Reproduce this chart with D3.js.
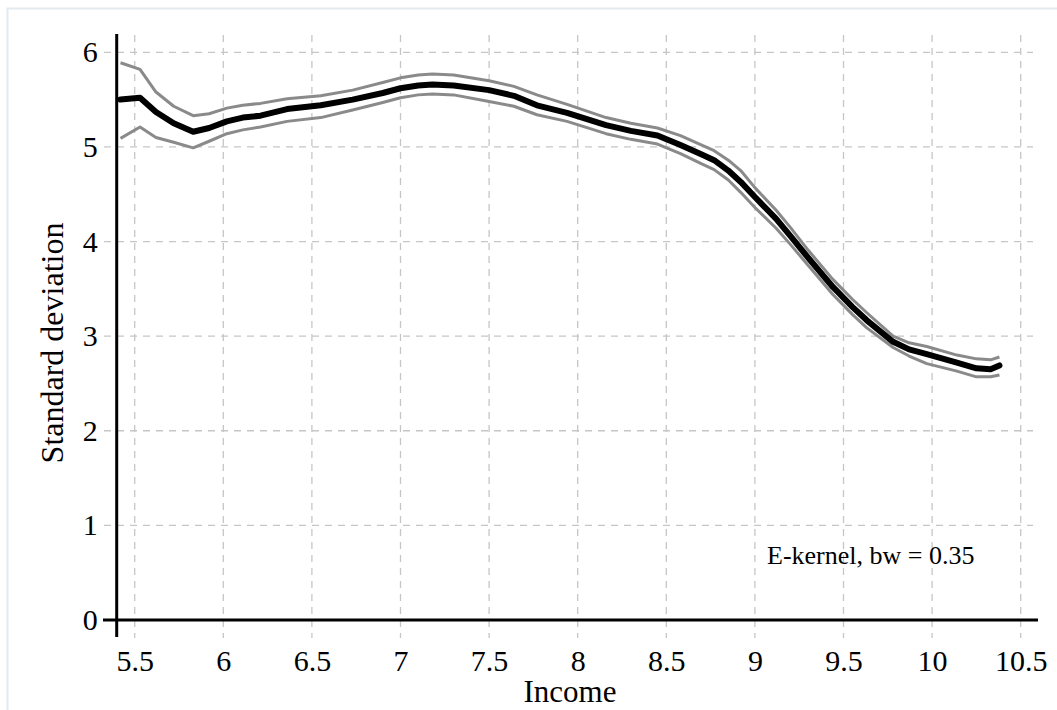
<!DOCTYPE html>
<html>
<head>
<meta charset="utf-8">
<script src="https://cdn.jsdelivr.net/npm/d3@7"></script>
<style>
  html, body { margin: 0; padding: 0; background: #fff; }
  svg { display: block; }
  text { font-family: "Liberation Serif", "Times New Roman", serif; fill: #000; }
</style>
</head>
<body>
<svg id="chart" width="1057" height="710"></svg>
<script>
// ---- data ----
const income = [5.42, 5.53, 5.62, 5.72, 5.83, 5.92, 6.02, 6.11, 6.21, 6.36, 6.55, 6.73, 6.9, 7.0, 7.1, 7.18, 7.3, 7.5, 7.64, 7.77, 7.94, 8.16, 8.3, 8.45, 8.58, 8.7, 8.77, 8.85, 8.92, 9.0, 9.12, 9.2, 9.3, 9.44, 9.55, 9.63, 9.78, 9.87, 9.97, 10.14, 10.25, 10.33, 10.38];
const sdEstimate = [5.50, 5.52, 5.37, 5.25, 5.16, 5.20, 5.27, 5.31, 5.33, 5.40, 5.44, 5.50, 5.57, 5.62, 5.65, 5.66, 5.65, 5.60, 5.54, 5.44, 5.36, 5.23, 5.17, 5.12, 5.02, 4.92, 4.86, 4.75, 4.63, 4.47, 4.24, 4.06, 3.83, 3.52, 3.31, 3.17, 2.94, 2.86, 2.81, 2.72, 2.66, 2.65, 2.69];
const sdUpper = [5.89, 5.82, 5.58, 5.43, 5.33, 5.35, 5.41, 5.44, 5.46, 5.51, 5.54, 5.60, 5.68, 5.73, 5.76, 5.77, 5.76, 5.70, 5.64, 5.55, 5.45, 5.31, 5.25, 5.20, 5.12, 5.02, 4.96, 4.86, 4.75, 4.57, 4.33, 4.15, 3.91, 3.60, 3.39, 3.25, 3.00, 2.93, 2.89, 2.80, 2.76, 2.75, 2.78];
const sdLower = [5.09, 5.21, 5.10, 5.05, 4.99, 5.06, 5.14, 5.18, 5.21, 5.27, 5.31, 5.39, 5.47, 5.52, 5.55, 5.56, 5.55, 5.48, 5.43, 5.34, 5.27, 5.14, 5.08, 5.03, 4.93, 4.82, 4.76, 4.65, 4.52, 4.36, 4.14, 3.97, 3.75, 3.44, 3.23, 3.09, 2.88, 2.79, 2.71, 2.63, 2.57, 2.57, 2.59];
const xTicks = [5.5, 6, 6.5, 7, 7.5, 8, 8.5, 9, 9.5, 10, 10.5];
const yTicks = [0, 1, 2, 3, 4, 5, 6];
const xTitle = "Income";
const yTitle = "Standard deviation";
const note = "E-kernel, bw = 0.35";

// ---- layout ----
const svg = d3.select("#chart");
const x = d3.scaleLinear().domain([5.5, 10.5]).range([134.7, 1020.7]);
const y = d3.scaleLinear().domain([0, 6]).range([620, 52.3]);
const axisX = 116.7, axisY = 620;
const gridTop = 35, gridBottom = 638, gridLeft = 104, gridRight = 1033;

// outer frame
svg.append("rect").attr("x", 7.5).attr("y", 8.5).attr("width", 1100).attr("height", 800)
  .attr("fill", "#fff").attr("stroke", "#e3eaf0").attr("stroke-width", 2);

// grid
const grid = svg.append("g").attr("stroke", "#c6c6c6").attr("stroke-width", 1.3)
  .attr("stroke-dasharray", "7,6").attr("fill", "none");
grid.selectAll("line.v").data(xTicks).join("line").attr("class", "v")
  .attr("x1", d => x(d)).attr("x2", d => x(d)).attr("y1", gridTop).attr("y2", gridBottom);
grid.selectAll("line.h").data(yTicks.filter(d => d > 0)).join("line").attr("class", "h")
  .attr("y1", d => y(d)).attr("y2", d => y(d)).attr("x1", gridLeft).attr("x2", gridRight);

// axes labels via d3 axes
const gx = svg.append("g").attr("transform", `translate(0,${axisY})`)
  .call(d3.axisBottom(x).tickValues(xTicks).tickFormat(d3.format("")).tickSize(0).tickPadding(30));
gx.select(".domain").remove();
gx.selectAll("text").attr("font-size", 30).attr("font-family", "Liberation Serif").attr("fill", "#000");

const gy = svg.append("g").attr("transform", `translate(${axisX},0)`)
  .call(d3.axisLeft(y).tickValues(yTicks).tickFormat(d3.format("d")).tickSize(0).tickPadding(19));
gy.select(".domain").remove();
gy.selectAll("text").attr("font-size", 30).attr("font-family", "Liberation Serif").attr("fill", "#000");

// axis lines
svg.append("line").attr("x1", 103).attr("x2", 1038).attr("y1", axisY).attr("y2", axisY)
  .attr("stroke", "#000").attr("stroke-width", 3);
svg.append("line").attr("x1", axisX).attr("x2", axisX).attr("y1", 34).attr("y2", 637)
  .attr("stroke", "#000").attr("stroke-width", 3);

// curves
const pts = arr => income.map((v, i) => [v, arr[i]]);
const line = d3.line().x(d => x(d[0])).y(d => y(d[1])).curve(d3.curveLinear);
svg.append("path").datum(pts(sdUpper)).attr("d", line).attr("fill", "none")
  .attr("stroke", "#8a8a8a").attr("stroke-width", 3).attr("stroke-linejoin", "round");
svg.append("path").datum(pts(sdLower)).attr("d", line).attr("fill", "none")
  .attr("stroke", "#8a8a8a").attr("stroke-width", 3).attr("stroke-linejoin", "round");
svg.append("path").datum(pts(sdEstimate)).attr("d", line).attr("fill", "none")
  .attr("stroke", "#000").attr("stroke-width", 6).attr("stroke-linejoin", "round").attr("stroke-linecap", "round");

// titles
svg.append("text").attr("x", 570).attr("y", 702).attr("text-anchor", "middle")
  .attr("font-size", 31).text(xTitle);
svg.append("text").attr("transform", "translate(63,343) rotate(-90)").attr("text-anchor", "middle")
  .attr("font-size", 32).text(yTitle);

// note
svg.append("text").attr("x", 767).attr("y", 564).attr("font-size", 26).text(note);
</script>
</body>
</html>
